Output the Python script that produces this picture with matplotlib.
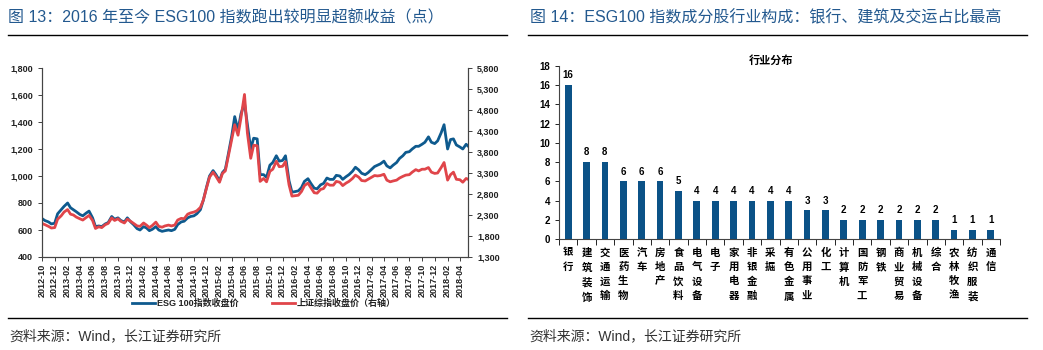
import pandas as pd
import matplotlib
matplotlib.use('Agg')
import matplotlib.pyplot as plt
import matplotlib.dates as mdates
from matplotlib.ticker import FuncFormatter, MultipleLocator
from matplotlib.lines import Line2D

plt.rcParams['font.family'] = ['Liberation Sans', 'Noto Sans CJK SC']

W, H = 1043, 350
blue = '#0e5a8e'
red = '#e0454a'
title_color = '#23598f'

# ---- Left chart data (semi-monthly, 2012-10 .. 2018-05) ----
start_date = '2012-10-01'

# ESG 100 close (left axis)
esg100 = [685, 670, 660, 645, 650, 720,
          750, 775, 800, 765, 750, 735, 715, 705, 725, 740, 690, 625, 630, 625, 645, 655,
          700, 680, 690, 670, 660, 690, 660, 640,
          610, 600, 625, 615, 595, 605, 625, 600, 590, 595, 600, 595, 605, 640, 660, 665,
          690, 700, 705, 720, 750, 820, 920, 1000,
          1040, 1010, 965, 1025, 1050, 1160, 1300, 1440, 1340, 1460, 1540, 1380, 1200, 1280,
          1275, 1010, 1010, 990, 1080, 1100, 1150, 1110, 1115, 1150,
          965, 880, 885, 890, 915, 960, 980, 945, 910, 905, 935, 945, 985, 975, 975, 1005,
          1000, 975, 995, 1010, 1035, 1065, 1045, 1020,
          1010, 1025, 1050, 1070, 1080, 1090, 1110, 1075, 1060, 1080, 1100, 1130, 1150, 1175,
          1180, 1200, 1220, 1220, 1235, 1250, 1290, 1250, 1240, 1260,
          1320, 1380, 1200, 1270, 1275, 1230, 1215, 1200, 1235, 1215]

# Shanghai Composite close (right axis)
sh_comp = [2100, 2070, 2030, 1990, 2000, 2200,
           2280, 2370, 2430, 2320, 2300, 2250, 2210, 2180, 2240, 2290, 2170, 1980, 2020, 2000,
           2070, 2100, 2230, 2170, 2210, 2150, 2110, 2200, 2150, 2100,
           2040, 2030, 2110, 2060, 2000, 2050, 2130, 2030, 2010, 2040, 2060, 2040, 2060, 2180,
           2220, 2210, 2320, 2350, 2370, 2400, 2480, 2650, 2950, 3200,
           3320, 3220, 3080, 3290, 3350, 3690, 4100, 4450, 4200, 4610, 5170, 4250, 3650, 3960,
           3950, 3100, 3170, 3090, 3340, 3390, 3580, 3450, 3460, 3570,
           3020, 2750, 2760, 2770, 2860, 3000, 3060, 2950, 2830, 2820, 2910, 2930, 3050, 3010,
           3010, 3100, 3080, 3000, 3060, 3100, 3170, 3250, 3200, 3120,
           3110, 3150, 3200, 3240, 3230, 3240, 3270, 3130, 3090, 3110, 3130, 3180, 3220, 3250,
           3260, 3320, 3380, 3350, 3390, 3390, 3430, 3320, 3290, 3300,
           3430, 3550, 3130, 3260, 3320, 3150, 3140, 3080, 3170, 3140]

dates = pd.date_range(start_date, periods=len(esg100), freq='SMS')
right_ticks = [1300, 1800, 2300, 2800, 3300, 3800, 4300, 4800, 5300, 5800]

# ---- Right chart data ----
industries = ['银行', '建筑装饰', '交通运输', '医药生物', '汽车', '房地产', '食品饮料', '电气设备',
              '电子', '家用电器', '非银金融', '采掘', '有色金属', '公用事业', '化工', '计算机',
              '国防军工', '钢铁', '商业贸易', '机械设备', '综合', '农林牧渔', '纺织服装', '通信']
counts = [16, 8, 8, 6, 6, 6, 5, 4, 4, 4, 4, 4, 4, 3, 3, 2, 2, 2, 2, 2, 2, 1, 1, 1]


def box(x0, y0, x1, y1):
    # pixel box (top-left origin) -> figure fraction rect
    return [x0 / W, 1 - y1 / H, (x1 - x0) / W, (y1 - y0) / H]


def fx(x):
    return x / W


def fy(y):
    return 1 - y / H


fig = plt.figure(figsize=(W / 100, H / 100), dpi=100)

# ---- headers / footers ----
fig.text(fx(8), fy(18), '图 13：2016 年至今 ESG100 指数跑出较明显超额收益（点）',
         fontsize=11.5, color=title_color, va='center', ha='left')
fig.text(fx(530), fy(18), '图 14：ESG100 指数成分股行业构成：银行、建筑及交运占比最高',
         fontsize=11.5, color=title_color, va='center', ha='left')
for x0, x1 in [(8, 507), (528, 1027)]:
    for y in (35, 318):
        fig.add_artist(Line2D([fx(x0), fx(x1)], [fy(y), fy(y)], color='black', lw=1))
    fig.text(fx(x0 + 1), fy(336), '资料来源：Wind，长江证券研究所',
             fontsize=10, color='#333333', va='center', ha='left')

# ---- left: line chart ----
ax = fig.add_axes(box(42, 68, 468, 257))
ax2 = ax.twinx()
ax.plot(dates, esg100, color=blue, lw=2)
ax2.plot(dates, sh_comp, color=red, lw=2)

ax.set_ylim(400, 1800)
ax2.set_ylim(1300, 5800)
ax.yaxis.set_major_locator(MultipleLocator(200))
ax2.set_yticks(right_ticks)
fmt = FuncFormatter(lambda v, p: f'{v:,.0f}')
ax.yaxis.set_major_formatter(fmt)
ax2.yaxis.set_major_formatter(fmt)

ax.set_xlim(pd.Timestamp('2012-10-01'), pd.Timestamp('2018-05-10'))
ticks = pd.date_range('2012-10-01', '2018-04-01', freq='2MS')
ax.set_xticks(ticks)
ax.xaxis.set_major_formatter(mdates.DateFormatter('%Y-%m'))

for a in (ax, ax2):
    a.spines['top'].set_visible(False)
    for s in a.spines.values():
        s.set_color('#444444')
        s.set_linewidth(0.8)
    a.tick_params(labelsize=6.5, length=3, width=0.6, colors='#222222')
    for lab in a.get_yticklabels():
        lab.set_fontweight('bold')
ax.tick_params(axis='x', rotation=90, pad=2)
for lab in ax.get_xticklabels():
    lab.set_fontweight('bold')

# legend drawn by hand under the plot
leg_y = 303
for x0, color, label in [(132, blue, 'ESG 100指数收盘价'), (272, red, '上证综指收盘价（右轴）')]:
    fig.add_artist(Line2D([fx(x0), fx(x0 + 23)], [fy(leg_y), fy(leg_y)], color=color, lw=2))
    fig.text(fx(x0 + 25), fy(leg_y), label, fontsize=6.5, fontweight='bold',
             color='#222222', va='center', ha='left')

# ---- right: bar chart ----
bx = fig.add_axes(box(559, 65.7, 1000, 239.3))
pos = list(range(len(industries)))
bx.bar(pos, counts, width=0.37, color='#0b5287')
for p, v in zip(pos, counts):
    bx.text(p, v + 0.5, str(v), ha='center', va='bottom', fontsize=7, fontweight='bold')

bx.set_xlim(-0.5, len(industries) - 0.5)
bx.set_ylim(0, 18)
bx.yaxis.set_major_locator(MultipleLocator(2))
bx.set_xticks(pos)
bx.set_xticklabels(['\n'.join(c) for c in industries], fontsize=7.5, fontweight='bold',
                   linespacing=1.55, va='top')
bx.set_xticks([p + 0.5 for p in [-1] + pos], minor=True)
bx.tick_params(axis='x', which='major', length=0, pad=6)
bx.tick_params(axis='x', which='minor', length=4, width=0.6)
bx.tick_params(axis='y', labelsize=7, length=3, width=0.6)
for lab in bx.get_yticklabels():
    lab.set_fontweight('bold')
for side in ('top', 'right'):
    bx.spines[side].set_visible(False)
for s in ('left', 'bottom'):
    bx.spines[s].set_color('#444444')
    bx.spines[s].set_linewidth(0.8)
bx.set_title('行业分布', fontsize=8, fontweight='bold', pad=0)
bx.title.set_position((0.48, 0.985))

fig.savefig('out.png', dpi=100)
